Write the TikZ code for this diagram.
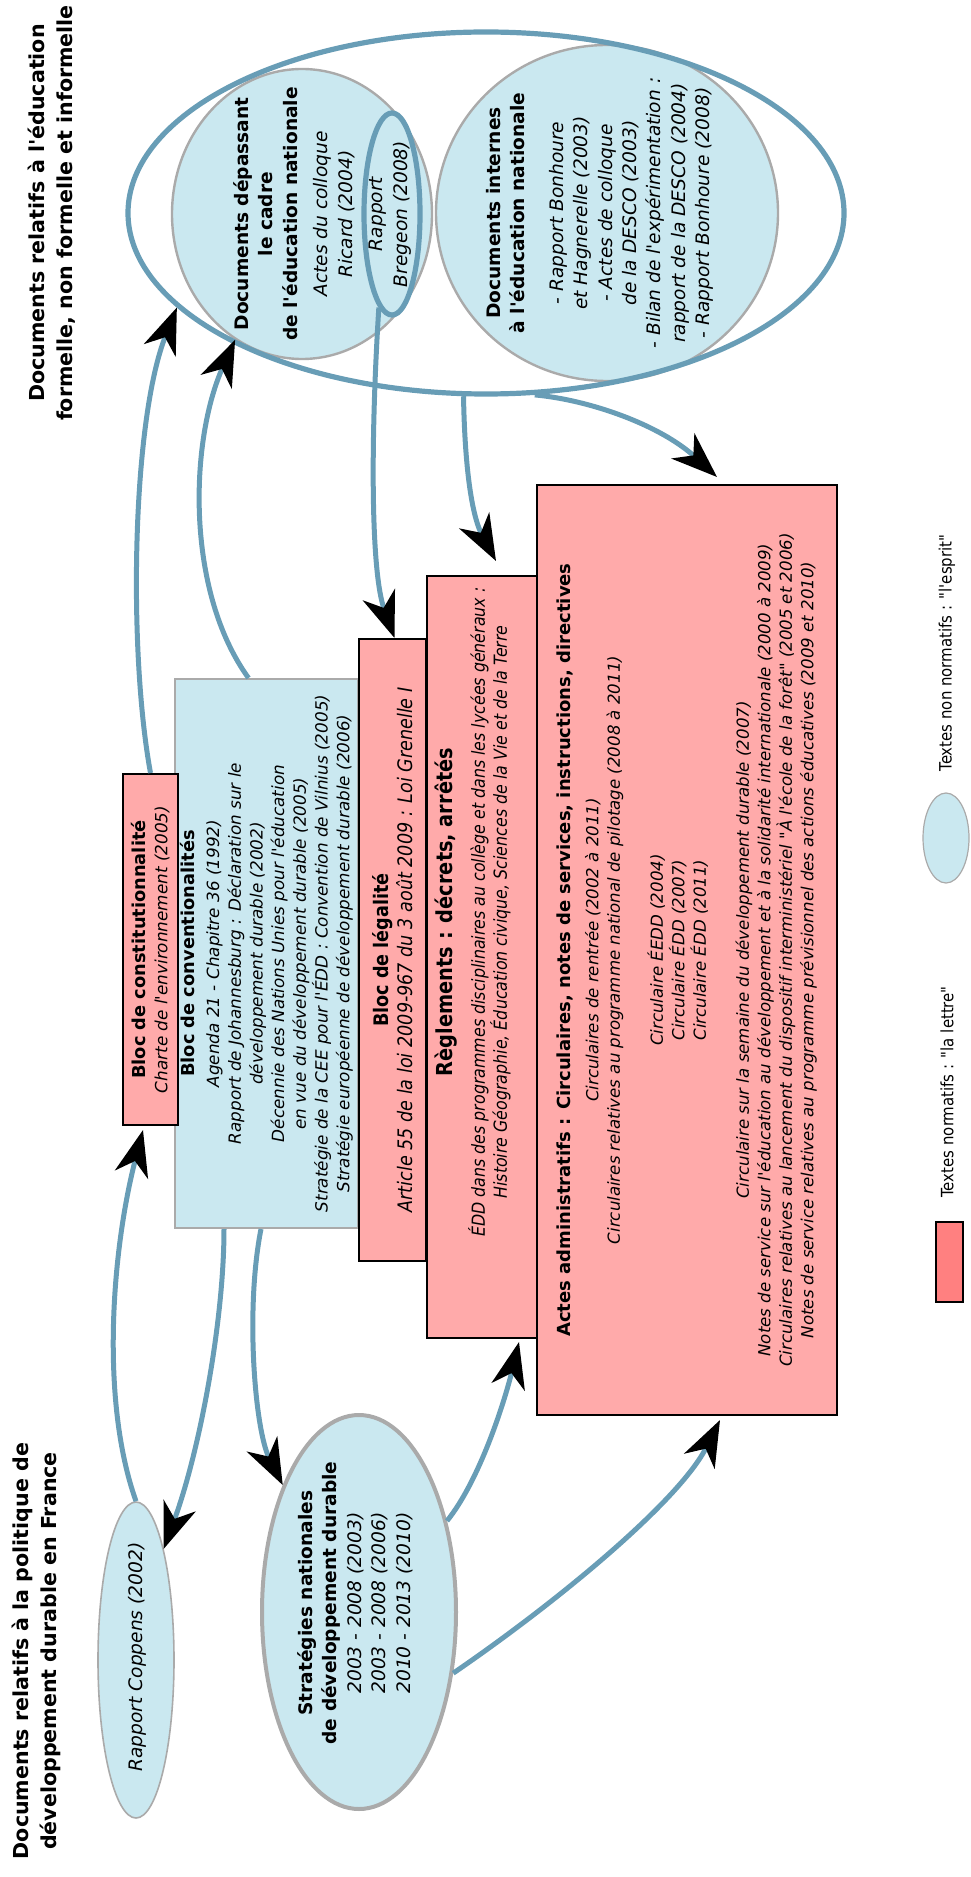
\documentclass[tikz,border=0pt]{standalone}
\usepackage{fontspec}
\setmainfont{DejaVu Sans}[Ligatures=TeXOff]
\newfontfamily\etroit{DejaVu Sans}[FakeStretch=0.88,Ligatures=TeXOff]
\usetikzlibrary{shapes.geometric,arrows.meta}
\definecolor{rosenorme}{HTML}{FFAAAA}
\definecolor{roselegende}{HTML}{FF8080}
\definecolor{bleuesprit}{HTML}{CAE8F0}
\definecolor{gristrait}{HTML}{AAAAAA}
\definecolor{bleulien}{HTML}{689DB6}
\newcommand\entete[1]{{\fontsize{8.9}{10.85}\selectfont\upshape\bfseries #1}}
\begin{document}
\begin{tikzpicture}
    [x=0.5pt, y=-0.5pt,
    norme/.style={draw=black, fill=rosenorme, line width=1pt, rotate=90, align=center, inner sep=2pt},
    espritbox/.style={draw=gristrait, fill=bleuesprit, line width=1pt, rotate=90, align=center, inner sep=2pt},
    espritell/.style={ellipse, draw=gristrait, fill=bleuesprit, line width=1.2pt, inner sep=0pt},
    bordcadre/.style={ellipse, draw=bleulien, line width=2.6pt, inner sep=0pt},
    texte/.style={rotate=90, align=center, inner sep=0pt},
    titre/.style={texte, font=\fontsize{10.3}{14}\selectfont\bfseries},
    elltexte/.style={texte, font=\fontsize{9.3}{12.2}\selectfont},
    boxtexte/.style={font=\fontsize{8.4}{10.85}\selectfont\itshape},
    etroittexte/.style={font=\etroit\fontsize{10}{11.8}\selectfont\itshape},
    fleche/.style={draw=bleulien, line width=2.5pt, -{Stealth[length=23pt,width=17pt,inset=7pt,color=black]}},
    ]
    \useasboundingbox (0,0) rectangle (970,1877);
    % titres
    \node[titre] (titreeduc) at (52,213) {Documents relatifs à l'éducation\\formelle, non formelle et informelle};
    \node[titre] (titredd) at (36,1651) {Documents relatifs à la politique de\\développement durable en France};
    % education formelle, non formelle et informelle
    \node[espritell, minimum width=130pt, minimum height=145pt] (depasse) at (302,214) {};
    \node[espritell, minimum width=171pt, minimum height=168pt] (interne) at (607,213) {};
    \node[bordcadre, minimum width=358pt, minimum height=181pt] (formel) at (486,213) {};
    \node[bordcadre, minimum width=28pt, minimum height=101pt] (bregeon) at (392,214) {};
    \node[elltexte] (depassetxt) at (294,214) {\textbf{Documents dépassant}\\\textbf{le cadre}\\\textbf{de l'éducation nationale}\\[3pt]
      \textit{Actes du colloque}\\\textit{Ricard (2004)}};
    \node[elltexte, font=\fontsize{9.3}{12.2}\selectfont\itshape] (bregeontxt) at (390,214) {Rapport\\Bregeon (2008)};
    \node[elltexte] (internetxt) at (600,213) {\textbf{Documents internes}\\\textbf{à l'éducation nationale}\\[7pt]
      \textit{- Rapport Bonhoure}\\\textit{et Hagnerelle (2003)}\\\textit{- Actes de colloque}\\\textit{de la DESCO (2003)}\\
      \textit{- Bilan de l'expérimentation :}\\\textit{rapport de la DESCO (2004)}\\\textit{- Rapport Bonhoure (2008)}};
    % blocs
    \node[espritbox, boxtexte, minimum width=274.5pt, minimum height=91.5pt] (conv) at (266.5,953.5)
      {\entete{Bloc de conventionalités}\\[1.5pt]
      Agenda 21 - Chapitre 36 (1992)\\
      Rapport de Johannesburg : Déclaration sur le\\
      développement durable (2002)\\
      Décennie des Nations Unies pour l'éducation\\
      en vue du développement durable (2005)\\
      Stratégie de la CEE pour l'ÉDD : Convention de Vilnius (2005)\\
      Stratégie européenne de développement durable (2006)};
    \node[norme, boxtexte, minimum width=175.5pt, minimum height=27.5pt] (const) at (150.5,949.5)
      {\entete{Bloc de constitutionnalité}\\Charte de l'environnement (2005)};
    \node[norme, etroittexte, minimum width=311pt, minimum height=33.5pt] (legal) at (392.5,950)
      {{\upshape\bfseries Bloc de légalité}\\Article 55 de la loi 2009-967 du 3 août 2009 : Loi Grenelle I};
    \node[norme, minimum width=381pt, minimum height=55pt] (regl) at (482,957) {};
    \node[texte, font=\etroit\fontsize{9}{11}\selectfont\itshape] (regltxt) at (473,912)
      {{\fontsize{11}{11}\selectfont\upshape\bfseries Règlements : décrets, arrêtés}\\[5pt]
      ÉDD dans des programmes disciplinaires au collège et dans les lycées généraux :\\
      Histoire Géographie, Éducation civique, Sciences de la Vie et de la Terre};
    \node[norme, font=\fontsize{8.3}{10.75}\selectfont\itshape, minimum width=465pt, minimum height=150pt] (actes) at (687,950)
      {{\fontsize{9}{10.75}\selectfont\upshape\bfseries Actes administratifs : Circulaires, notes de services, instructions, directives}\\[3pt]
      Circulaires de rentrée (2002 à 2011)\\
      Circulaires relatives au programme national de pilotage (2008 à 2011)\\[10.75pt]
      Circulaire ÉEDD (2004)\\
      Circulaire ÉDD (2007)\\
      Circulaire ÉDD (2011)\\[10.75pt]
      Circulaire sur la semaine du développement durable (2007)\\
      Notes de service sur l'éducation au développement et à la solidarité internationale (2000 à 2009)\\
      Circulaires relatives au lancement du dispositif interministériel "À l'école de la forêt" (2005 et 2006)\\
      Notes de service relatives au programme prévisionnel des actions éducatives (2009 et 2010)};
    % politique de developpement durable
    \node[espritell, line width=0.8pt, minimum width=38pt, minimum height=158pt] (coppens) at (136,1660) {};
    \node[elltexte] (coppenstxt) at (137,1657) {\textit{Rapport Coppens (2002)}};
    \node[espritell, line width=2pt, minimum width=97pt, minimum height=197pt] (sndd) at (359,1612) {};
    \node[elltexte] (sndd txt) at (355,1603) {\textbf{Stratégies nationales}\\\textbf{de développement durable}\\
      \textit{2003 - 2008 (2003)}\\\textit{2003 - 2008 (2006)}\\\textit{2010 - 2013 (2010)}};
    % legende
    \node[draw=black, fill=roselegende, line width=0.8pt, minimum width=13.5pt, minimum height=40pt, inner sep=0pt] (legnorme) at (949.5,1262) {};
    \node[texte, anchor=west, font=\etroit\fontsize{8.5}{10}\selectfont] (legnormetxt) at (947,1198) {Textes normatifs : "la lettre"};
    \node[espritell, line width=0.6pt, minimum width=23pt, minimum height=45pt] (legesprit) at (946,838) {};
    \node[texte, anchor=west, font=\etroit\fontsize{8.5}{10}\selectfont] (legesprittxt) at (947,772) {Textes non normatifs : "l'esprit"};
    % liens
    \draw[fleche] (const.east) .. controls (128,650) and (132,420) .. (formel.197);
    \draw[fleche] ([xshift=-9pt]conv.east) .. controls (185,590) and (190,440) .. (depasse.242);
    \draw[fleche] (bregeon.262) .. controls (371,430) and (370,570) .. ([xshift=1pt]legal.east);
    \draw[fleche] (formel.263) .. controls (465,480) and (474,520) .. ([xshift=7pt,yshift=7pt]regl.east);
    \draw[fleche] (formel.285) .. controls (590,400) and (660,425) .. ([xshift=15pt,yshift=3.5pt]actes.east);
    \draw[fleche] (coppens.north) .. controls (100,1400) and (112,1250) .. ([xshift=-3.75pt,yshift=-2pt]const.west);
    \draw[fleche] ([xshift=-21.25pt]conv.west) .. controls (224,1320) and (200,1450) .. (coppens.76);
    \draw[fleche] ([xshift=-2.75pt]conv.west) .. controls (245,1310) and (255,1430) .. (sndd.121);
    \draw[fleche] (sndd.46) .. controls (480,1480) and (505,1400) .. ([xshift=18.5pt,yshift=-1.5pt]regl.west);
    \draw[fleche] (sndd.-33) .. controls (560,1600) and (680,1500) .. ([xshift=16.5pt,yshift=-2pt]actes.west);
\end{tikzpicture}
\end{document}
